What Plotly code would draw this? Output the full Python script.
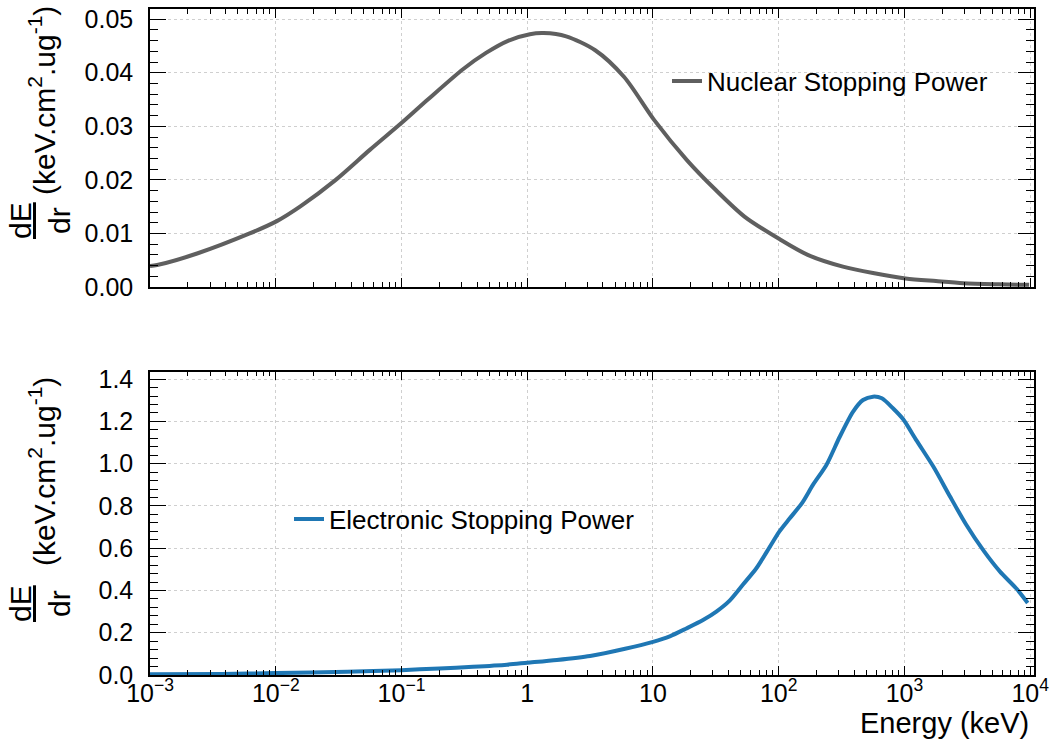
import plotly.graph_objects as go

# ---------------- data ----------------
energy_nuclear_kev = [1.0e-3, 1.14e-3, 2.4e-3, 6.2e-3, 1.02e-2, 1.58e-2, 3.0e-2, 5.6e-2,
                      0.102, 0.162, 0.31, 0.47, 0.71, 1.05, 1.35, 2.04, 3.47, 5.9,
                      10.2, 18.6, 31.6, 53.7, 102, 170, 324, 562, 1020, 1780, 2950, 5620, 9800]
nuclear_stopping = [0.0039, 0.0041, 0.0063, 0.0100, 0.0123, 0.0151, 0.0200, 0.0256,
                    0.0308, 0.0350, 0.0407, 0.0437, 0.0460, 0.0472, 0.0474, 0.0468, 0.0442, 0.0392,
                    0.0312, 0.0237, 0.0181, 0.0131, 0.0089, 0.0060, 0.0038, 0.0026, 0.0016, 0.0011, 0.0007, 0.0005, 0.0004]

energy_electronic_kev = [1.0e-3, 3.7e-3, 1.0e-2, 3.7e-2, 0.1, 0.2, 0.37, 0.69, 1.0, 1.72,
                         3.16, 6.0, 10, 13.6, 18.4, 25, 31.9, 40.7, 52, 66.4, 84.7, 101,
                         122, 155, 186, 240, 305, 389, 468, 562, 661, 813, 977, 1245, 1700,
                         2290, 3090, 4270, 5750, 7760, 9550]
electronic_stopping = [0.003, 0.005, 0.009, 0.015, 0.023, 0.031, 0.039, 0.049, 0.058, 0.071,
                       0.090, 0.124, 0.157, 0.183, 0.220, 0.260, 0.300, 0.352, 0.428, 0.505, 0.605, 0.678,
                       0.740, 0.818, 0.897, 0.995, 1.126, 1.245, 1.301, 1.317, 1.309, 1.261, 1.210, 1.110, 0.985,
                       0.847, 0.712, 0.587, 0.489, 0.409, 0.341]

nuclear_label = "Nuclear Stopping Power"
electronic_label = "Electronic Stopping Power"
x_title = "Energy (keV)"
y_frac = "<u>dE</u><br>dr"
y_units = "(keV.cm<sup>2</sup>.ug<sup>-1</sup>)"

# ---------------- figure ----------------
FONT = "Liberation Sans, Arial, Helvetica, sans-serif"
W, H = 1055, 742
L, R, T, B = 150, 21, 9, 67
PW, PH = W - L - R, H - T - B


def px_x(p):
    return (p - L) / PW


def px_y(p):
    return (H - B - p) / PH


fig = go.Figure()
fig.add_trace(go.Scatter(x=energy_nuclear_kev, y=nuclear_stopping, mode="lines",
                         name=nuclear_label,
                         line=dict(color="#5f5f5f", width=4, shape="spline", smoothing=0.8),
                         xaxis="x", yaxis="y", legend="legend"))
fig.add_trace(go.Scatter(x=energy_electronic_kev, y=electronic_stopping, mode="lines",
                         name=electronic_label,
                         line=dict(color="#1f77b4", width=4, shape="spline", smoothing=0.7),
                         xaxis="x2", yaxis="y2", legend="legend2"))

# log axis: one major tick per decade (labels 10^n, with "1" and "10"), minor ticks 2..9
xcommon = dict(type="log", range=[-3, 4.03], showline=True, linecolor="black", linewidth=1.5,
               mirror="allticks", ticks="inside", ticklen=9, tickwidth=1.2, tickcolor="black",
               tickmode="linear", tick0=0, dtick=1, exponentformat="power",
               showgrid=True, gridcolor="#cfcfcf", griddash="dot", gridwidth=1,
               minor=dict(ticks="inside", dtick="D1", ticklen=5, tickwidth=1, tickcolor="black",
                          showgrid=False),
               zeroline=False, tickfont=dict(family=FONT, size=20, color="black"),
               ticklabelstandoff=-4, automargin=False)
ycommon = dict(showline=True, linecolor="black", linewidth=1.5, mirror="allticks",
               ticks="inside", ticklen=16, tickwidth=1.2, tickcolor="black",
               showgrid=True, gridcolor="#cfcfcf", griddash="dot", gridwidth=1,
               zeroline=False, tickfont=dict(family=FONT, size=25, color="black"),
               ticklabelstandoff=10, automargin=False)

top_bottom = px_y(287)
bot_top = px_y(371.7)

fig.update_layout(
    width=W, height=H,
    margin=dict(l=L, r=R, t=T, b=B, autoexpand=False),
    paper_bgcolor="white", plot_bgcolor="white",
    font=dict(family=FONT, color="black"),
    xaxis=dict(xcommon, domain=[0, 1], anchor="y", showticklabels=False, matches="x2"),
    yaxis=dict(ycommon, domain=[top_bottom, 1], anchor="x", range=[0, 0.0519],
               tickmode="linear", tick0=0, dtick=0.01, tickformat=".2f",
               minor=dict(ticks="inside", ticklen=8, tickwidth=1, tickcolor="black", dtick=0.002, showgrid=False)),
    xaxis2=dict(xcommon, domain=[0, 1], anchor="y2"),
    yaxis2=dict(ycommon, domain=[0, bot_top], anchor="x2", range=[0, 1.435],
                tickmode="linear", tick0=0, dtick=0.2, tickformat=".1f",
                minor=dict(ticks="inside", ticklen=8, tickwidth=1, tickcolor="black", dtick=0.04, showgrid=False)),
    legend=dict(x=px_x(667), y=px_y(81), xanchor="left", yanchor="middle",
                bgcolor="rgba(0,0,0,0)", font=dict(family=FONT, size=26, color="black")),
    legend2=dict(x=px_x(289), y=px_y(519), xanchor="left", yanchor="middle",
                 bgcolor="rgba(0,0,0,0)", font=dict(family=FONT, size=26, color="black")),
    showlegend=True,
)

annotations = [
    dict(text=x_title, x=px_x(1031), y=px_y(723), xref="paper", yref="paper",
         xanchor="right", yanchor="middle", showarrow=False,
         font=dict(family=FONT, size=29, color="black")),
    dict(text=y_frac, x=px_x(40), y=px_y(221), xref="paper", yref="paper",
         xanchor="center", yanchor="middle", textangle=-90, showarrow=False,
         font=dict(family=FONT, size=30, color="black")),
    dict(text=y_units, x=px_x(42), y=px_y(101), xref="paper", yref="paper",
         xanchor="center", yanchor="middle", textangle=-90, showarrow=False,
         font=dict(family=FONT, size=30, color="black")),
    dict(text=y_frac, x=px_x(40), y=px_y(604), xref="paper", yref="paper",
         xanchor="center", yanchor="middle", textangle=-90, showarrow=False,
         font=dict(family=FONT, size=30, color="black")),
    dict(text=y_units, x=px_x(42), y=px_y(472), xref="paper", yref="paper",
         xanchor="center", yanchor="middle", textangle=-90, showarrow=False,
         font=dict(family=FONT, size=30, color="black")),
]
fig.update_layout(annotations=annotations)

fig.write_html("out.html", config={"displayModeBar": False},
               post_script="document.body.style.margin='0';document.body.style.padding='0';")
